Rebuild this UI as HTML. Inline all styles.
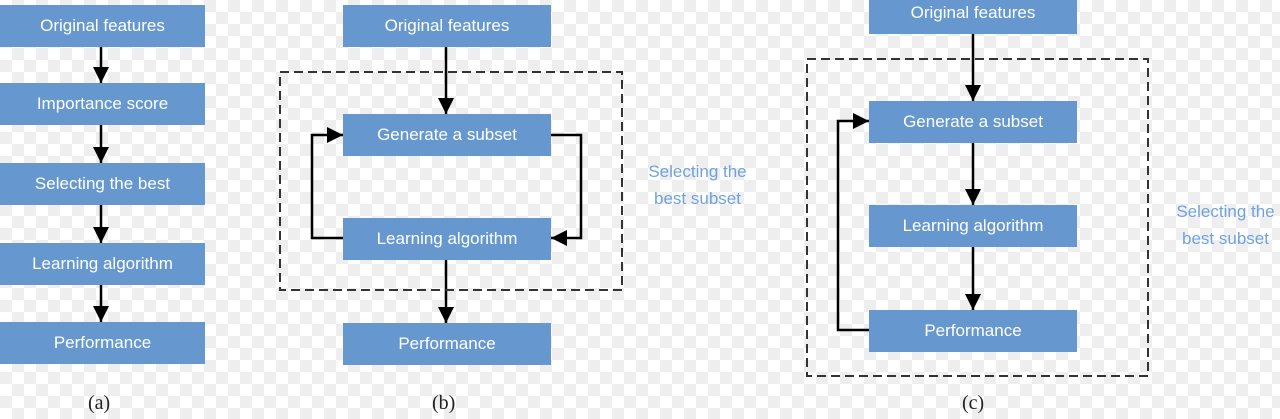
<!DOCTYPE html>
<html><head><style>
html,body{margin:0;padding:0}
body{width:1280px;height:419px;overflow:hidden;position:relative;
background-color:#fff;
background-image:linear-gradient(45deg,#eee 25%,transparent 25%,transparent 75%,#eee 75%),linear-gradient(45deg,#eee 25%,transparent 25%,transparent 75%,#eee 75%);
background-size:24px 24px;background-position:0 0,12px 12px;
font-family:"Liberation Sans",sans-serif}
.b{position:absolute;background:#6698cf;color:#fff;font-size:17px;display:flex;align-items:center;justify-content:center;height:42px}
.l{position:absolute;font-family:"Liberation Serif",serif;font-size:20px;color:#222}
.t{position:absolute;color:#6fa3de;font-size:17px;line-height:27px;text-align:center}
svg{position:absolute;left:0;top:0}
</style></head><body>
<svg width="1280" height="419">
<defs><marker id="a" markerWidth="10" markerHeight="10" refX="9" refY="5" orient="auto" markerUnits="userSpaceOnUse" viewBox="0 0 10 10"><path d="M0,0L10,5L0,10z" fill="#000"/></marker>
<marker id="m" markerWidth="16" markerHeight="16" refX="16" refY="8" orient="auto" markerUnits="userSpaceOnUse" viewBox="0 0 16 16"><path d="M0,0L16,8L0,16z" fill="#000"/></marker></defs>
<g stroke="#000" stroke-width="2.5" fill="none">
<line x1="101" y1="47" x2="101" y2="83" marker-end="url(#m)"/>
<line x1="101" y1="125" x2="101" y2="163" marker-end="url(#m)"/>
<line x1="101" y1="205" x2="101" y2="243" marker-end="url(#m)"/>
<line x1="101" y1="285" x2="101" y2="322" marker-end="url(#m)"/>
<line x1="446" y1="47" x2="446" y2="114" marker-end="url(#m)"/>
<line x1="446" y1="260" x2="446" y2="323" marker-end="url(#m)"/>
<polyline points="551,135 581,135 581,238 551,238" marker-end="url(#m)"/>
<polyline points="343,238 312,238 312,135 343,135" marker-end="url(#m)"/>
<line x1="973" y1="33" x2="973" y2="101" marker-end="url(#m)"/>
<line x1="973" y1="142" x2="973" y2="205" marker-end="url(#m)"/>
<line x1="973" y1="246" x2="973" y2="310" marker-end="url(#m)"/>
<polyline points="869,330 838,330 838,121 869,121" marker-end="url(#m)"/>
</g>
<g stroke="#333" stroke-width="2" fill="none" stroke-dasharray="9,5">
<rect x="280" y="72" width="342" height="218"/>
<rect x="807" y="59" width="341" height="317"/>
</g>
</svg>
<div class="b" style="left:0;width:205px;top:5px">Original features</div>
<div class="b" style="left:0;width:205px;top:83px">Importance score</div>
<div class="b" style="left:0;width:205px;top:163px">Selecting the best</div>
<div class="b" style="left:0;width:205px;top:243px">Learning algorithm</div>
<div class="b" style="left:0;width:205px;top:322px">Performance</div>
<div class="b" style="left:343px;width:208px;top:5px">Original features</div>
<div class="b" style="left:343px;width:208px;top:114px">Generate a subset</div>
<div class="b" style="left:343px;width:208px;top:218px">Learning algorithm</div>
<div class="b" style="left:343px;width:208px;top:323px">Performance</div>
<div class="b" style="left:869px;width:208px;top:-8px">Original features</div>
<div class="b" style="left:869px;width:208px;top:101px">Generate a subset</div>
<div class="b" style="left:869px;width:208px;top:205px">Learning algorithm</div>
<div class="b" style="left:869px;width:208px;top:310px">Performance</div>
<div class="t" style="left:630px;top:158px;width:135px">Selecting the<br>best subset</div>
<div class="t" style="left:1158px;top:198px;width:135px">Selecting the<br>best subset</div>
<div class="l" style="left:88px;top:392px">(a)</div>
<div class="l" style="left:432px;top:392px">(b)</div>
<div class="l" style="left:962px;top:392px">(c)</div>
</body></html>
